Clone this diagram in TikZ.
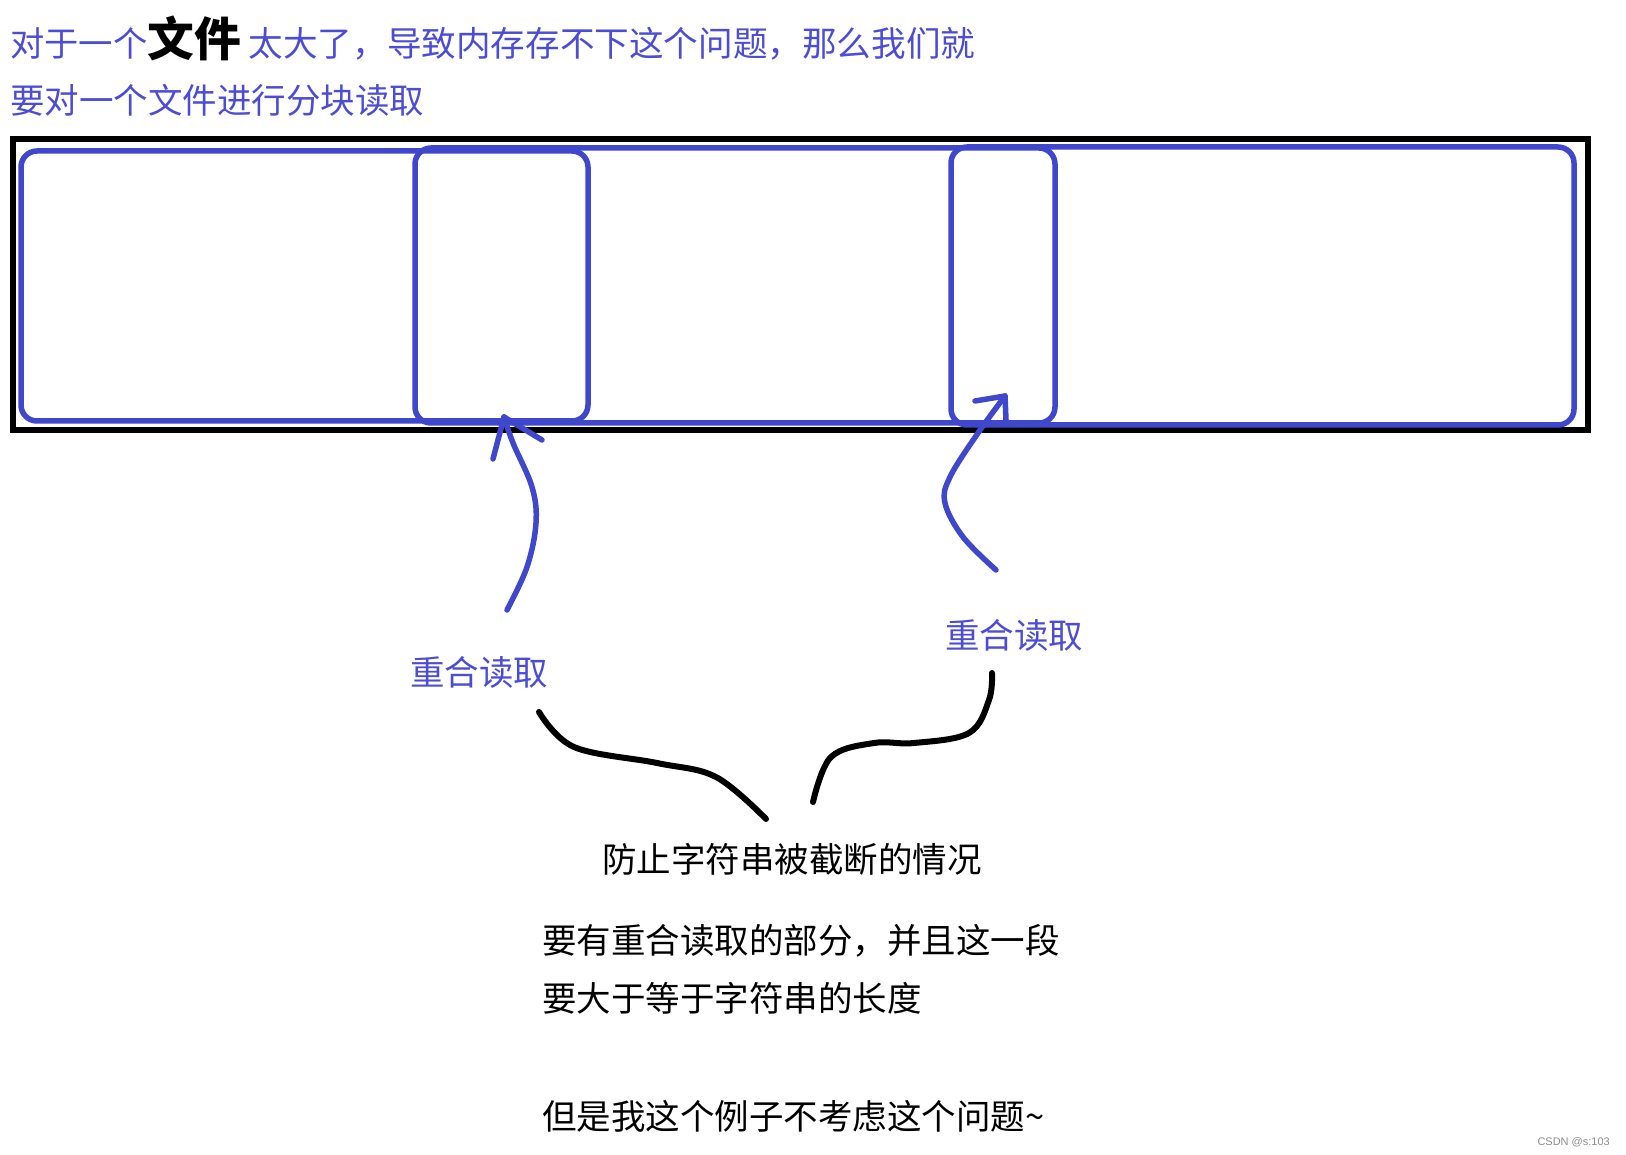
\documentclass[tikz,border=0pt]{standalone}
\usepackage{fontspec}
\newfontfamily\cjk{Noto Sans CJK SC}
\setsansfont{Liberation Sans}
\definecolor{pb}{RGB}{63,72,204}
\definecolor{tb}{RGB}{76,76,214}
\begin{document}
\begin{tikzpicture}[x=1pt,y=-1pt,
  blkframe/.style={draw=black,line width=5.5pt},
  chunk/.style={draw=pb,line width=5.5pt,rounded corners=16pt},
  pen/.style={draw=pb,line width=5.5pt,line cap=round,line join=round},
  ink/.style={draw=black,line width=6pt,line cap=round,line join=round},
  txt/.style={inner sep=0pt,anchor=base west,font=\cjk\fontsize{34.5pt}{40pt}\selectfont},
  lbl/.style={inner sep=0pt,anchor=base,text=tb,font=\cjk\fontsize{34.5pt}{40pt}\selectfont}]
\useasboundingbox[fill=white] (0,0) rectangle (1626,1155);

% title text
\node[inner sep=0pt,anchor=base west] (title1) at (10,57)
  {\cjk\color{tb}\fontsize{34.3pt}{40pt}\selectfont 对于一个{\color{black}\bfseries\fontsize{46.8pt}{50pt}\selectfont 文件}\fontsize{34.6pt}{40pt}\selectfont\ 太大了，导致内存存不下这个问题，那么我们就};
\node[txt,text=tb] (title2) at (10,114) {要对一个文件进行分块读取};

% file frame and chunks
\draw[blkframe] (13,139) rectangle (1588,430);
\draw[chunk] (21,151) rectangle (588,421);
\draw[chunk] (415,148) rectangle (1055,423);
\draw[chunk] (951,147) rectangle (1574,425);

% arrows
\coordinate (a1s) at (507,610);
\coordinate (a1t) at (504,417);
\draw[pen] plot[smooth,tension=0.6] coordinates {(a1s) (527,567) (536,523) (532,487) (513,443) (a1t)};
\draw[pen] (a1t) -- (493,459);
\draw[pen] (a1t) -- (542,440);

\coordinate (a2s) at (996,570);
\coordinate (a2t) at (1005,396);
\draw[pen] plot[smooth,tension=0.6] coordinates {(a2s) (963,537) (945,503) (950,477) (978,433) (a2t)};
\draw[pen] (a2t) -- (975,401);
\draw[pen] (a2t) -- (1006,420);

% labels
\node[lbl] (ov1) at (479,685) {重合读取};
\node[lbl] (ov2) at (1014,648) {重合读取};

% black brace curves
\coordinate (b1s) at (539,712);
\coordinate (b1e) at (766,819);
\draw[ink] plot[smooth,tension=0.6] coordinates {(b1s) (574,747) (657,763) (716,777) (b1e)};
\coordinate (b2s) at (813,802);
\coordinate (b2e) at (992,673);
\draw[ink] plot[smooth,tension=0.6] coordinates {(b2s) (831,757) (874,743) (914,743) (969,733) (989,700) (b2e)};

% explanation text
\node[txt] (why) at (602,872) {防止字符串被截断的情况};
\node[txt] (req1) at (542,953) {要有重合读取的部分，并且这一段};
\node[txt] (req2) at (542,1011) {要大于等于字符串的长度};
\node[txt] (note) at (542,1129) {但是我这个例子不考虑这个问题\string~};

\node[inner sep=0pt,anchor=base east,text=black!45,font=\sffamily\fontsize{11pt}{13pt}\selectfont] (wm) at (1610,1145) {CSDN @s:103};
\end{tikzpicture}
\end{document}
